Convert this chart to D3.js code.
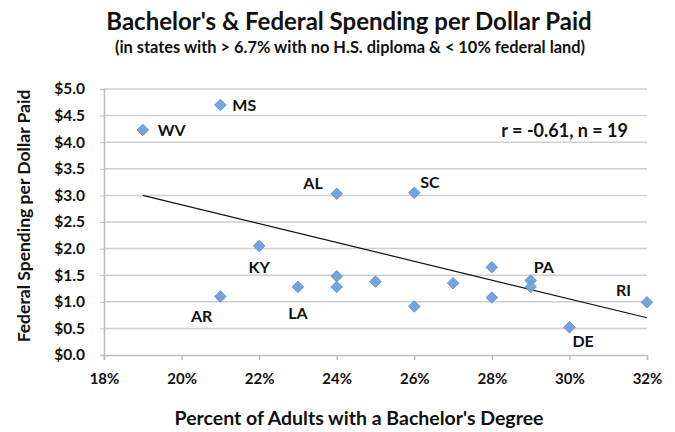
<!DOCTYPE html>
<html lang="en">
<head>
    <meta charset="utf-8">
    <script src="https://d3js.org/d3.v7.min.js"></script>
    <style>
        body { margin: 0; background: #fff; }
        text { font-family: Lato, "Open Sans", sans-serif; font-weight: bold; fill: #111; }
    </style>
</head>
<body>
    <script>
        // Data
        const states = ["WV", "MS", "AR", "KY", "LA", "AL", "", "", "", "SC", "", "", "", "", "PA", "", "DE", "RI"];
        const bachelors = [19, 21, 21, 22, 23, 24, 24, 24, 25, 26, 26, 27, 28, 28, 29, 29, 30, 32];
        const spending = [4.23, 4.70, 1.10, 2.05, 1.28, 3.03, 1.48, 1.28, 1.38, 3.05, 0.91, 1.35, 1.65, 1.08, 1.40, 1.28, 0.52, 0.99];
        const trendX = [19, 32];
        const trendY = [3.0, 0.70];
        const xTicks = [18, 20, 22, 24, 26, 28, 30, 32];
        const yTicks = [0, 0.5, 1, 1.5, 2, 2.5, 3, 3.5, 4, 4.5, 5];

        // label placement relative to point
        const labelPos = {
            WV: { dx: 15, dy: 6, anchor: "start" },
            MS: { dx: 12, dy: 6, anchor: "start" },
            AR: { dx: -8, dy: 26, anchor: "end" },
            KY: { dx: 0, dy: 27, anchor: "middle" },
            LA: { dx: 0, dy: 32, anchor: "middle" },
            AL: { dx: -14, dy: -5, anchor: "end" },
            SC: { dx: 6, dy: -5, anchor: "start" },
            PA: { dx: 3, dy: -8, anchor: "start" },
            DE: { dx: 3, dy: 20, anchor: "start" },
            RI: { dx: -16, dy: -6, anchor: "end" }
        };

        const width = 675, height = 432;
        const plotLeft = 104, plotRight = 647, plotTop = 89, plotBottom = 355;

        const svg = d3.select("body").append("svg")
            .attr("width", width)
            .attr("height", height);

        const x = d3.scaleLinear().domain([18, 32]).range([plotLeft, plotRight]);
        const y = d3.scaleLinear().domain([0, 5]).range([plotBottom, plotTop]);

        // gridlines
        svg.append("g")
            .selectAll("line")
            .data(yTicks.slice(1))
            .enter()
            .append("line")
            .attr("x1", plotLeft)
            .attr("x2", plotRight)
            .attr("y1", d => y(d))
            .attr("y2", d => y(d))
            .attr("stroke", "#cfcfcf")
            .attr("stroke-width", 1.5);

        // y axis
        const yAxis = svg.append("g")
            .attr("transform", `translate(${plotLeft},0)`)
            .call(d3.axisLeft(y).tickValues(yTicks).tickSize(4).tickPadding(15)
                .tickFormat(d => "$" + d3.format(".1f")(d)));
        yAxis.select(".domain").attr("stroke", "#bdbdbd").attr("stroke-width", 1.5);
        yAxis.selectAll(".tick line").attr("stroke", "#bdbdbd");
        yAxis.selectAll("text").style("font-size", "15.5px").attr("fill", "#111");

        // x axis
        const xAxis = svg.append("g")
            .attr("transform", `translate(0,${plotBottom})`)
            .call(d3.axisBottom(x).tickValues(xTicks).tickSize(5).tickPadding(13)
                .tickFormat(d => d + "%"));
        xAxis.select(".domain").attr("stroke", "#bdbdbd").attr("stroke-width", 1.5);
        xAxis.selectAll(".tick line").attr("stroke", "#bdbdbd").attr("stroke-width", 1.5);
        xAxis.selectAll("text").style("font-size", "15px").attr("fill", "#111");

        // trend line
        svg.append("line")
            .attr("x1", x(trendX[0]))
            .attr("y1", y(trendY[0]))
            .attr("x2", x(trendX[1]))
            .attr("y2", y(trendY[1]))
            .attr("stroke", "#111")
            .attr("stroke-width", 1.2);

        // points
        const pts = bachelors.map((b, i) => ({ x: b, y: spending[i], s: states[i] }));
        svg.append("g")
            .selectAll("path")
            .data(pts)
            .enter()
            .append("path")
            .attr("d", d3.symbol().type(d3.symbolDiamond2).size(85))
            .attr("transform", d => `translate(${x(d.x)},${y(d.y)})`)
            .attr("fill", "#74a3dd")
            .attr("stroke", "#5a8bcb")
            .attr("stroke-width", 0.8);

        // state labels
        svg.append("g")
            .selectAll("text")
            .data(pts.filter(d => d.s))
            .enter()
            .append("text")
            .attr("x", d => x(d.x) + labelPos[d.s].dx)
            .attr("y", d => y(d.y) + labelPos[d.s].dy)
            .attr("text-anchor", d => labelPos[d.s].anchor)
            .style("font-size", "16px")
            .text(d => d.s);

        svg.append("text")
            .attr("x", 628)
            .attr("y", 137)
            .attr("text-anchor", "end")
            .style("font-size", "18px")
            .text("r = -0.61, n = 19");

        // titles
        svg.append("text")
            .attr("x", 349)
            .attr("y", 30)
            .attr("text-anchor", "middle")
            .style("font-size", "24px")
            .text("Bachelor's & Federal Spending per Dollar Paid");
        svg.append("text")
            .attr("x", 350)
            .attr("y", 53)
            .attr("text-anchor", "middle")
            .style("font-size", "16.4px")
            .text("(in states with > 6.7% with no H.S. diploma & < 10% federal land)");
        svg.append("text")
            .attr("x", 359)
            .attr("y", 425)
            .attr("text-anchor", "middle")
            .style("font-size", "19.5px")
            .text("Percent of Adults with a Bachelor's Degree");
        svg.append("text")
            .attr("transform", "translate(30,216) rotate(-90)")
            .attr("text-anchor", "middle")
            .style("font-size", "17.5px")
            .text("Federal Spending per Dollar Paid");
    </script>
</body>
</html>
